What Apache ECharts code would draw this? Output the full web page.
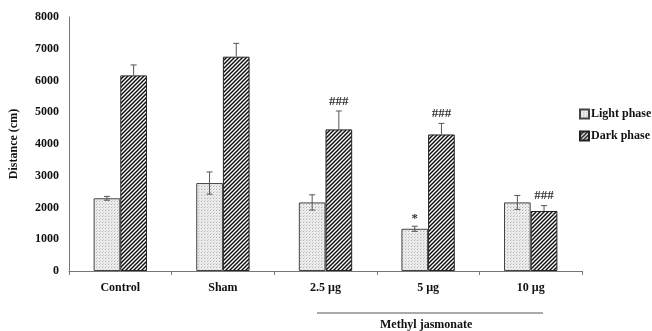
<!DOCTYPE html>
<html><head><meta charset="utf-8">
<script src="https://cdn.jsdelivr.net/npm/echarts@6/dist/echarts.min.js"></script>
<style>html,body{margin:0;padding:0;background:#fff}#c{width:652px;height:331px}</style>
</head><body><div id="c"></div>
<script>
const categories = ['Control', 'Sham', '2.5 µg', '5 µg', '10 µg'];
const seriesNames = ['Light phase', 'Dark phase'];
const lightValues = [2290, 2770, 2160, 1330, 2160];
const darkValues = [6160, 6750, 4460, 4300, 1890];
const lightErrors = [60, 350, 240, 80, 220];
const darkErrors = [330, 420, 580, 350, 170];
const lightMarks = ['', '', '', '*', ''];
const darkMarks = ['', '', '###', '###', '###'];
const yTicks = [0, 1000, 2000, 3000, 4000, 5000, 6000, 7000, 8000];
const groupLabel = 'Methyl jasmonate';

function stripes() {
  const s = 4, c = document.createElement('canvas');
  c.width = s; c.height = s;
  const g = c.getContext('2d');
  g.fillStyle = '#fff'; g.fillRect(0, 0, s, s);
  g.strokeStyle = '#111'; g.lineWidth = 1.5;
  g.beginPath();
  g.moveTo(-1, s + 1); g.lineTo(s + 1, -1);
  g.moveTo(-1, 1); g.lineTo(1, -1);
  g.moveTo(s - 1, s + 1); g.lineTo(s + 1, s - 1);
  g.stroke();
  return c;
}
function dots() {
  const s = 3, c = document.createElement('canvas');
  c.width = s; c.height = s;
  const g = c.getContext('2d');
  g.fillStyle = '#ececec'; g.fillRect(0, 0, s, s);
  g.fillStyle = '#b4b4b4'; g.fillRect(0, 0, 1, 1);
  g.fillStyle = '#d0d0d0'; g.fillRect(1, 2, 1, 1);
  return c;
}
const lightFill = { image: dots(), repeat: 'repeat' };
const darkFill = { image: stripes(), repeat: 'repeat' };
const FONT = 'Liberation Serif';
const GAP = 0.48;

function errRender(values, errors, marks, side, both) {
  return function (params, api) {
    const i = params.dataIndex;
    const band = api.size([1, 0])[0];
    const bw = band * (1 - GAP) / 2;
    const c = api.coord([i, values[i]]);
    const x = c[0] + side * bw / 2;
    const top = api.coord([i, values[i] + errors[i]])[1];
    const bot = both ? api.coord([i, values[i] - errors[i]])[1] : c[1];
    const cap = 3;
    const st = { stroke: '#555', lineWidth: 1 };
    const children = [
      { type: 'line', shape: { x1: x, y1: top, x2: x, y2: bot }, style: st },
      { type: 'line', shape: { x1: x - cap, y1: top, x2: x + cap, y2: top }, style: st }
    ];
    if (both) children.push({ type: 'line', shape: { x1: x - cap, y1: bot, x2: x + cap, y2: bot }, style: st });
    if (marks[i]) {
      children.push({ type: 'text', style: { text: marks[i], x: x, y: top - (marks[i] === '*' ? 1 : 3), align: 'center', verticalAlign: 'bottom', fill: '#333', font: 'bold 13px "' + FONT + '"' } });
    }
    return { type: 'group', children: children };
  };
}

const chart = echarts.init(document.getElementById('c'));
chart.setOption({
  animation: false,
  textStyle: { fontFamily: FONT },
  grid: { left: 61, right: 70, top: 17, bottom: 60 },
  legend: {
    orient: 'vertical', left: 574, top: 103, itemWidth: 9, itemHeight: 9, itemGap: 10, icon: 'rect',
    data: seriesNames,
    textStyle: { fontFamily: FONT, fontWeight: 'bold', fontSize: 12, color: '#111', padding: [0, 0, 0, -3] }
  },
  xAxis: {
    type: 'category', data: categories,
    axisLine: { lineStyle: { color: '#777' } },
    axisTick: { show: true, length: 4, lineStyle: { color: '#777' } },
    axisLabel: { fontFamily: FONT, fontWeight: 'bold', fontSize: 12, color: '#111', margin: 11 }
  },
  yAxis: {
    type: 'value', min: yTicks[0], max: yTicks[yTicks.length - 1], interval: 1000,
    name: 'Distance (cm)', nameLocation: 'middle', nameGap: 49,
    nameTextStyle: { fontFamily: FONT, fontWeight: 'bold', fontSize: 12, color: '#111' },
    splitLine: { show: false },
    axisLine: { show: true, lineStyle: { color: '#777' } },
    axisTick: { show: false },
    axisLabel: { fontFamily: FONT, fontWeight: 'bold', fontSize: 12, color: '#111', margin: 10, formatter: v => String(v) }
  },
  series: [
    { name: seriesNames[0], type: 'bar', data: lightValues, barGap: '0%', barCategoryGap: (GAP * 100) + '%',
      itemStyle: { color: lightFill, borderColor: '#444', borderWidth: 1 }, z: 2 },
    { name: seriesNames[1], type: 'bar', data: darkValues, barGap: '0%', barCategoryGap: (GAP * 100) + '%',
      itemStyle: { color: darkFill, borderColor: '#222', borderWidth: 1 }, z: 2 },
    { type: 'custom', renderItem: errRender(lightValues, lightErrors, lightMarks, -1, true), data: lightValues, z: 5, silent: true },
    { type: 'custom', renderItem: errRender(darkValues, darkErrors, darkMarks, 1, false), data: darkValues, z: 5, silent: true }
  ],
  graphic: [
    { type: 'line', shape: { x1: 317, y1: 313, x2: 543, y2: 313 }, style: { stroke: '#555', lineWidth: 1 } },
    { type: 'text', left: 380, top: 319, style: { text: groupLabel, font: 'bold 12px "' + FONT + '"', fill: '#111' } }
  ]
});
</script></body></html>
